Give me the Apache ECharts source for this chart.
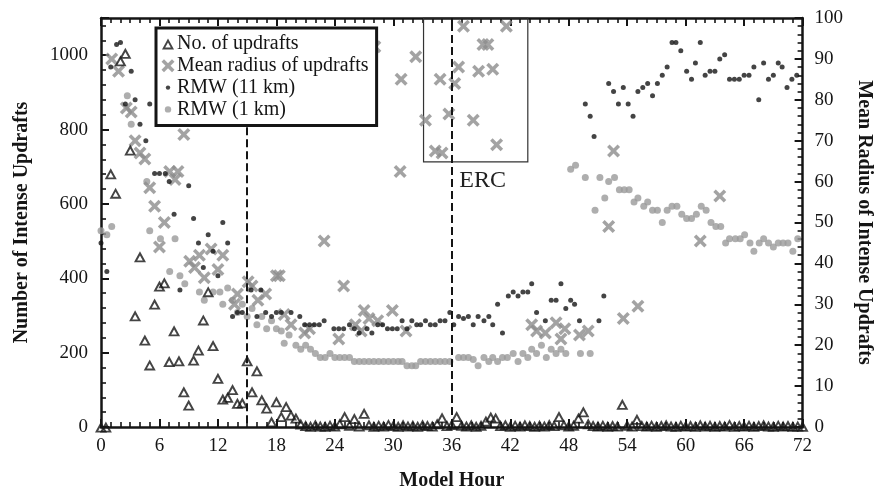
<!DOCTYPE html>
<html>
<head>
<meta charset="utf-8">
<script src="https://cdn.jsdelivr.net/npm/echarts@6/dist/echarts.min.js"></script>
<style>
  html, body { margin: 0; padding: 0; background: #fff; }
  #chart { width: 882px; height: 496px; }
</style>
</head>
<body>
<div id="chart"></div>
<script>
// Number of intense updrafts, one value every half hour from 0 to 72 h
const updraftCount = [
  0, 0, 681, 629, 985, 1005, 745, 299, 458, 234, 167, 331, 379, 388, 176, 259, 178, 95, 59, 180,
  207, 288, 364, 219, 131, 75, 80, 101, 64, 65, 178, 95, 151, 73, 51, 14, 68, 28, 55, 32,
  24, 8, 4, 2, 6, 3, 2, 5, 3, 9, 28, 5, 23, 3, 37, 6, 2, 5, 3, 7,
  4, 2, 6, 3, 5, 2, 6, 4, 3, 9, 25, 4, 7, 28, 5, 3, 6, 2, 5, 16,
  27, 24, 4, 6, 2, 5, 3, 6, 4, 2, 5, 3, 7, 4, 28, 6, 3, 5, 24, 41,
  9, 4, 3, 5, 2, 4, 3, 61, 5, 3, 21, 4,
  3, 5, 2, 4, 6, 3, 2, 5, 3, 4, 2, 6, 3, 5, 2, 4, 3, 7, 2, 4, 3, 5, 2, 4, 6, 3, 2, 5, 3, 4, 2, 3, 2
];

// Mean radius of updrafts [hour, km]
const meanRadius = [
  [1.1, 90], [1.8, 87], [2.6, 78], [3.1, 77], [3.5, 70], [4.0, 67], [4.5, 65.5], [5.0, 58.5],
  [5.5, 54], [6.0, 44], [6.5, 50], [7.05, 62.5], [7.6, 60.5], [7.9, 62.5], [8.5, 71.5], [9.1, 40.5],
  [9.6, 39], [10.1, 42], [10.6, 36.5], [11.3, 43.5], [12.0, 38.5], [12.5, 42], [13.7, 30], [14.0, 32.5],
  [15.1, 35.5], [15.5, 34.5], [16.1, 31], [16.9, 32.5], [18.0, 37], [18.3, 37], [18.8, 27.5], [19.5, 25],
  [20.9, 23], [21.4, 24], [22.9, 45.5], [24.4, 21.5], [24.9, 34.5], [26.1, 25], [26.7, 23.5], [27.0, 28.5],
  [27.5, 26.5], [28.1, 93], [28.4, 26], [29.9, 28.5], [30.7, 62.5], [30.8, 85], [31.3, 23.5], [32.3, 90.5],
  [33.3, 75], [34.3, 67.5], [34.8, 85], [35.0, 67], [35.7, 76.5], [36.3, 84], [36.7, 88], [37.2, 98],
  [38.2, 75], [38.75, 87], [39.2, 93.5], [39.7, 93.5], [40.2, 87.5], [40.6, 69], [41.6, 98],
  [44.2, 25], [44.7, 23.5], [45.6, 23], [46.7, 25.5], [47.2, 21.5], [47.6, 24], [49.1, 22.5], [50.0, 23.5],
  [52.1, 49], [52.6, 67.5], [53.6, 26.5], [55.1, 29.5], [61.5, 45.5], [63.5, 56.5]
];

// RMW at 11 km [hour, km]
const rmw11 = [
  [0, 45], [0.6, 38], [1.0, 88], [1.6, 93.5], [2.0, 94], [2.5, 79], [3.1, 87], [3.5, 80], [4.0, 74],
  [4.6, 70], [5.0, 79], [5.5, 62], [6.0, 62], [6.6, 62], [7.0, 60], [7.5, 52], [8.1, 33.5], [9.0, 59],
  [9.5, 51], [10.0, 45], [10.5, 39], [11.0, 47], [11.5, 43], [12.0, 37], [12.5, 50], [13.0, 45],
  [13.5, 27], [14.0, 28], [14.5, 28], [15.4, 33.5], [16.0, 27], [16.4, 33.5], [16.9, 28], [17.5, 27],
  [18.0, 28], [18.5, 28], [19.5, 28], [20.4, 27], [20.9, 25], [21.4, 25], [21.9, 25], [22.4, 25],
  [22.9, 26], [23.9, 24], [24.4, 24], [24.9, 24], [25.5, 25], [26.0, 24], [26.5, 23], [27.3, 24],
  [27.8, 23], [28.4, 25], [28.9, 25], [29.4, 24], [29.9, 24], [30.4, 24], [30.9, 26], [31.4, 24],
  [31.9, 26], [32.4, 25], [32.8, 25], [33.3, 26], [33.8, 25], [34.3, 25], [34.8, 26], [35.3, 26],
  [35.8, 28], [36.2, 25], [36.7, 27], [37.2, 26.5], [37.7, 27], [38.2, 25], [38.7, 27], [39.3, 26],
  [39.8, 27], [40.2, 25], [40.7, 30], [41.2, 23], [41.8, 32], [42.3, 33], [42.8, 32], [43.3, 33],
  [43.8, 33], [44.2, 35], [44.7, 28], [45.6, 26], [46.2, 31], [46.7, 31], [47.2, 35], [47.7, 29],
  [48.2, 31], [48.6, 30], [49.1, 26], [49.7, 79], [50.2, 76], [50.6, 71], [51.1, 26], [51.6, 32],
  [52.1, 84], [52.6, 82], [53.1, 79], [53.6, 83], [54.1, 79], [54.6, 76], [55.1, 82], [55.6, 83],
  [56.1, 84], [56.6, 81], [57.1, 84], [57.6, 86], [58.1, 88], [58.6, 94], [59.0, 94], [59.5, 92],
  [60.1, 87], [60.6, 85], [61.0, 89], [61.5, 94], [62.0, 86], [62.5, 87], [63.0, 87], [63.5, 90],
  [64.0, 91], [64.5, 85], [65.0, 85], [65.5, 85], [66.0, 86], [66.5, 86], [67.0, 88], [67.5, 80],
  [68.0, 89], [68.5, 85], [69.0, 86], [69.5, 89], [69.9, 88], [70.4, 83], [70.9, 85], [71.4, 86]
];

// RMW at 1 km [hour, km]
const rmw1 = [
  [0, 48], [0.6, 47], [1.1, 49], [2.7, 81], [3.1, 74], [4.7, 60], [5.0, 48], [6.1, 46], [7.05, 38],
  [7.6, 46], [8.1, 37], [8.6, 35], [10.1, 33], [10.6, 31], [11.5, 33], [12.2, 33], [12.5, 30], [13.0, 34],
  [13.5, 31], [14.0, 28], [14.5, 30], [15.0, 27], [15.5, 29], [16.0, 25], [16.5, 27], [17.0, 24],
  [17.5, 26], [18.0, 24], [18.5, 23.5], [18.8, 20.5], [19.3, 22.5], [20.0, 20], [20.5, 19], [21.0, 20],
  [21.5, 19], [22.0, 18], [22.5, 17], [23.0, 17], [23.5, 18], [24.0, 17], [24.5, 17], [25.0, 17],
  [25.5, 17], [26.0, 16], [26.5, 16], [27.0, 16], [27.5, 16], [28.0, 16], [28.5, 16], [29.0, 16],
  [29.5, 16], [30.0, 16], [30.5, 16], [30.9, 16], [31.4, 15], [31.9, 15], [32.3, 15], [32.8, 16],
  [33.3, 16], [33.8, 16], [34.3, 16], [34.8, 16], [35.3, 16], [35.8, 16], [36.7, 17], [37.2, 17],
  [37.7, 17], [38.2, 16.5], [38.7, 15], [39.3, 17], [39.8, 16], [40.2, 17], [40.7, 16], [41.2, 17],
  [41.7, 17], [42.3, 18], [42.8, 16], [43.3, 18], [43.8, 17], [44.2, 19], [44.7, 18], [45.2, 20],
  [45.7, 17], [46.2, 19], [46.7, 18], [47.2, 19], [47.7, 18], [48.2, 63], [48.7, 64], [49.2, 18],
  [49.7, 61], [50.2, 18], [50.7, 53], [51.2, 61], [51.7, 56], [52.1, 60], [52.7, 61], [53.2, 58],
  [53.7, 58], [54.2, 58], [54.7, 55], [55.1, 56], [55.7, 54], [56.1, 55], [56.6, 53], [57.1, 53],
  [57.6, 50], [58.1, 53], [58.6, 54], [59.1, 54], [59.6, 52], [60.1, 51], [60.6, 51], [61.1, 52],
  [61.6, 54], [62.1, 53], [62.6, 50], [63.1, 49], [63.6, 49], [64.1, 45], [64.5, 46], [65.1, 46],
  [65.6, 46], [66.05, 47], [66.6, 45], [67.0, 43], [67.55, 45], [68.0, 46], [68.5, 45], [69.0, 44],
  [69.5, 45], [70.0, 45], [70.5, 45], [71.0, 43], [71.5, 46]
];

const seriesNames = ['No. of updrafts', 'Mean radius of updrafts', 'RMW (11 km)', 'RMW (1 km)'];

const serif = '"Liberation Serif", "Times New Roman", serif';
const ink = '#151515';

const triPath = 'path://M6,0L12,11L0,11ZM6,4.2L3.2,9.2L8.8,9.2Z';
const crossPath = 'path://M0,2.5L2.5,0L6.5,4L10.5,0L13,2.5L9,6.5L13,10.5L10.5,13L6.5,9L2.5,13L0,10.5L4,6.5Z';
const legendIcons = [
  'path://M0,0M14,14M7,1.5L13,12.5L1,12.5ZM7,5.6L4.2,10.6L9.8,10.6Z',
  'path://M0,0M14,14M0.5,3L3,0.5L7,4.5L11,0.5L13.5,3L9.5,7L13.5,11L11,13.5L7,9.5L3,13.5L0.5,11L4.5,7Z',
  'path://M0,0M14,14M7,4.8A2.2,2.2,0,1,1,7,9.2A2.2,2.2,0,1,1,7,4.8Z',
  'path://M0,0M14,14M7,3.8A3.2,3.2,0,1,1,7,10.2A3.2,3.2,0,1,1,7,3.8Z'
];

const axisLine = { show: true, onZero: false, lineStyle: { color: ink, width: 2.5 } };
const tick = { show: true, inside: true, length: 8, lineStyle: { color: ink, width: 2 } };
const minor = (n) => ({ show: true, splitNumber: n, length: 5, lineStyle: { color: ink, width: 1.6 } });
const labelStyle = { fontFamily: serif, fontSize: 19, color: ink };
const nameStyle = { fontFamily: serif, fontSize: 20, fontWeight: 'bold', color: ink };

const chart = echarts.init(document.getElementById('chart'));
chart.setOption({
  animation: false,
  backgroundColor: '#fff',
  grid: { left: 101, right: 76, top: 18, bottom: 69 },
  legend: {
    orient: 'vertical',
    left: 156, top: 28,
    padding: [6, 8, 6, 5],
    itemGap: 1.8,
    itemWidth: 14, itemHeight: 14,
    backgroundColor: '#fff',
    borderColor: ink, borderWidth: 3,
    textStyle: { fontFamily: serif, fontSize: 20, lineHeight: 18, color: ink, padding: [0, 0, 0, -3] },
    data: seriesNames.map((n, i) => ({ name: n, icon: legendIcons[i] }))
  },
  xAxis: [
    {
      type: 'value', min: 0, max: 72, interval: 6, position: 'bottom',
      name: 'Model Hour', nameLocation: 'middle', nameGap: 44, nameTextStyle: nameStyle,
      axisLine: axisLine, axisTick: tick, minorTick: minor(6),
      axisLabel: { ...labelStyle, margin: 10 },
      splitLine: { show: false }
    },
    {
      type: 'value', min: 0, max: 72, interval: 6, position: 'top',
      axisLine: axisLine, axisTick: tick, minorTick: minor(6),
      axisLabel: { show: false }, splitLine: { show: false }
    }
  ],
  yAxis: [
    {
      type: 'value', min: 0, max: 1100, interval: 200, position: 'left',
      name: 'Number of Intense Updrafts', nameLocation: 'middle', nameGap: 69, nameTextStyle: nameStyle,
      axisLine: axisLine, axisTick: tick, minorTick: minor(5),
      axisLabel: { ...labelStyle, margin: 13, showMaxLabel: false, formatter: (v) => String(v) },
      splitLine: { show: false }
    },
    {
      type: 'value', min: 0, max: 100, interval: 10, position: 'right',
      name: 'Mean Radius of Intense Updrafts', nameLocation: 'middle', nameGap: 50, nameRotate: -90,
      nameTextStyle: nameStyle,
      axisLine: axisLine, axisTick: tick, minorTick: minor(5),
      axisLabel: { ...labelStyle, margin: 12 },
      splitLine: { show: false }
    }
  ],
  series: [
    {
      name: seriesNames[0], type: 'scatter', xAxisIndex: 0, yAxisIndex: 0, z: 5,
      data: updraftCount.map((v, i) => [i * 0.5, v]),
      symbol: triPath, symbolSize: [12, 11],
      itemStyle: { color: ink },
      markLine: {
        silent: true, symbol: ['none', 'none'], label: { show: false },
        lineStyle: { color: ink, width: 2, type: [8, 4] },
        data: [
          [{ coord: [15, 806] }, { coord: [15, 0] }],
          { xAxis: 36 }
        ]
      }
    },
    {
      name: seriesNames[1], type: 'scatter', xAxisIndex: 0, yAxisIndex: 1, z: 3,
      data: meanRadius,
      symbol: crossPath, symbolSize: 13,
      itemStyle: { color: '#8c8c8c' },
      markArea: {
        silent: true,
        itemStyle: { color: 'rgba(0,0,0,0)', borderColor: '#333', borderWidth: 1.2 },
        label: { show: true, position: 'bottom', distance: 6, offset: [7, 0],
          fontFamily: serif, fontSize: 24, color: '#222' },
        data: [[{ name: 'ERC', xAxis: 33.1, yAxis: 64.8 }, { xAxis: 43.8, yAxis: 100 }]]
      }
    },
    {
      name: seriesNames[2], type: 'scatter', xAxisIndex: 0, yAxisIndex: 1, z: 4,
      data: rmw11, symbol: 'circle', symbolSize: 5,
      itemStyle: { color: ink }
    },
    {
      name: seriesNames[3], type: 'scatter', xAxisIndex: 0, yAxisIndex: 1, z: 2,
      data: rmw1, symbol: 'circle', symbolSize: 7,
      itemStyle: { color: '#9a9a9a' }
    }
  ]
});
</script>
</body>
</html>
